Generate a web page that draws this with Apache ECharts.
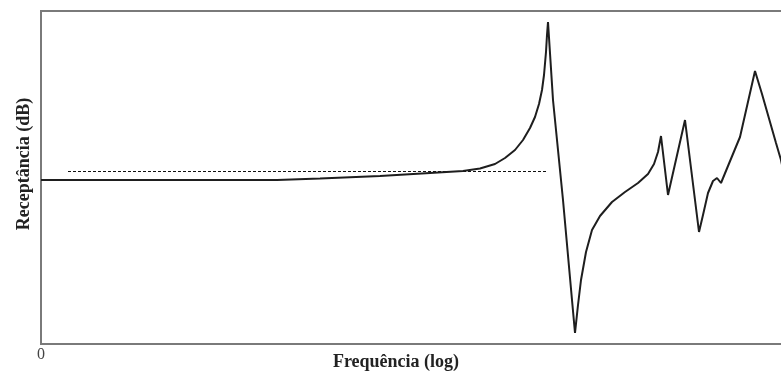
<!DOCTYPE html>
<html>
<head>
<meta charset="utf-8">
<script src="https://cdn.jsdelivr.net/npm/echarts@6/dist/echarts.min.js"></script>
<style>html,body{margin:0;padding:0;background:#fff;overflow:hidden}#c{width:781px;height:374px}</style>
</head>
<body>
<div id="c"></div>
<script>
// Frequency (arbitrary units along the log axis) and receptance (dB, arbitrary offset)
const freq = [0, 79, 159, 236, 279, 339, 389, 422, 439, 454, 464, 474, 482, 489, 494, 498, 501, 503, 505, 506, 507,
  512, 522, 531, 534,
  537, 540, 545, 551, 559, 571, 584, 597, 607, 613, 617, 620,
  627, 644, 658,
  662, 667, 672, 676, 680, 687, 699, 714, 721, 729, 735, 740, 743];
const recep = [164, 164, 164, 164, 165.5, 168, 171, 173, 175.5, 180, 186, 194, 204, 216, 227, 240, 254, 269, 292, 309, 322,
  244, 144, 44, 11,
  39, 64, 92, 114, 128, 142, 152, 161, 170, 180, 192, 208,
  149, 224, 112,
  129, 151, 163, 166, 161, 178, 207, 273, 250, 222, 201, 184, 169];
// Reference (dashed) line
const refFreq = [27, 506];
const refRecep = [172.5, 172.5];
const xTickLabels = ['0'];

const chart = echarts.init(document.getElementById('c'), null, {renderer: 'canvas'});
const serif = '"Liberation Serif", "DejaVu Serif", serif';
chart.setOption({
  animation: false,
  backgroundColor: '#fff',
  grid: {left: 41, width: 745, top: 11, height: 333, outerBoundsMode: 'none', containLabel: false,
    show: true, borderColor: '#7a7a7a', borderWidth: 2, backgroundColor: 'transparent'},
  xAxis: {
    type: 'value', min: 0, max: 745, interval: 745,
    axisLine: {show: false}, axisTick: {show: false}, splitLine: {show: false},
    axisLabel: {
      color: '#444', fontFamily: serif, fontSize: 16, margin: 3,
      formatter: v => (v === 0 ? xTickLabels[0] : '')
    }
  },
  yAxis: {
    type: 'value', min: 0, max: 333,
    axisLine: {show: false}, axisTick: {show: false}, splitLine: {show: false}, axisLabel: {show: false}
  },
  graphic: [
    {type: 'text', x: 396, y: 362, style: {text: 'Frequência (log)', font: 'bold 18px ' + serif, fill: '#222', textAlign: 'center', textVerticalAlign: 'middle'}},
    {type: 'text', x: 24, y: 164, rotation: Math.PI / 2, style: {text: 'Receptância (dB)', font: 'bold 18px ' + serif, fill: '#222', textAlign: 'center', textVerticalAlign: 'middle'}}
  ],
  series: [
    {
      type: 'line', data: freq.map((f, i) => [f, recep[i]]), showSymbol: false, symbol: 'none',
      lineStyle: {color: '#1e1e1e', width: 2}, z: 3
    },
    {
      type: 'line', data: refFreq.map((f, i) => [f, refRecep[i]]), showSymbol: false, symbol: 'none',
      lineStyle: {color: '#111', width: 1, type: [3, 2]}, z: 2
    }
  ]
});
</script>
</body>
</html>
